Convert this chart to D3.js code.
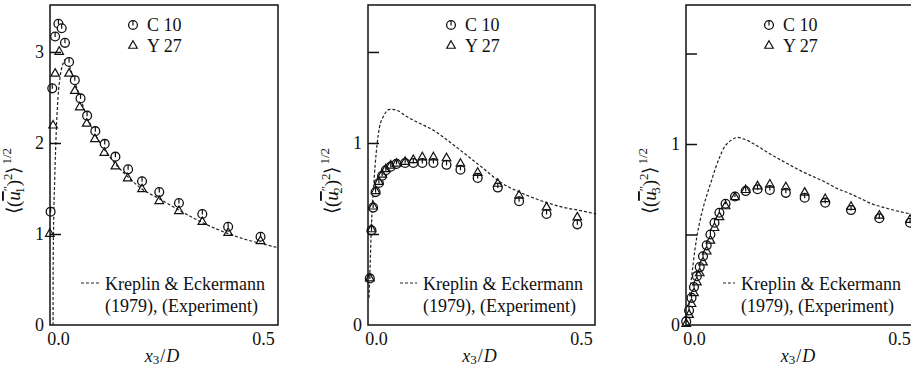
<!DOCTYPE html>
<html><head><meta charset="utf-8">
<script src="https://cdn.jsdelivr.net/npm/d3@7/dist/d3.min.js"></script>
<style>
body{margin:0;background:#fff;}
svg text{font-family:'Liberation Serif', serif; fill:#111;}
</style></head>
<body><svg id="c" width="911" height="373"></svg>
<script>
// ---------- DATA ----------
const xTickValues = [0, 0.5];
const seriesNames = ["C 10", "Y 27"];
const lineName = ["Kreplin & Eckermann", "(1979), (Experiment)"];

// panel 1: <(u1'')^2>^1/2
const u1_C10 = [[-0.018,1.245],[-0.014,2.60],[-0.007,3.17],[0.001,3.31],[0.009,3.26],[0.017,3.10],[0.027,2.89],[0.041,2.69],[0.055,2.49],[0.071,2.30],[0.091,2.13],[0.114,1.99],[0.140,1.85],[0.171,1.71],[0.205,1.58],[0.247,1.46],[0.295,1.34],[0.352,1.22],[0.415,1.08],[0.494,0.97]];
const u1_Y27 = [[-0.020,1.01],[-0.012,2.20],[-0.007,2.77],[0.003,3.01],[0.027,2.77],[0.041,2.58],[0.053,2.40],[0.070,2.22],[0.090,2.05],[0.113,1.90],[0.140,1.75],[0.170,1.62],[0.205,1.50],[0.247,1.37],[0.295,1.26],[0.352,1.14],[0.415,1.02],[0.494,0.93]];
const u1_KE = [[-0.012,0],[-0.012,0.5],[-0.011,1.0],[-0.008,1.6],[-0.004,2.15],[0.0,2.5],[0.006,2.75],[0.012,2.87],[0.018,2.92],[0.025,2.88],[0.035,2.75],[0.05,2.55],[0.07,2.3],[0.09,2.1],[0.11,1.95],[0.14,1.77],[0.17,1.63],[0.2,1.51],[0.25,1.38],[0.3,1.25],[0.35,1.13],[0.4,1.03],[0.45,0.95],[0.5,0.89],[0.537,0.85]];

// panel 2: <(u2'')^2>^1/2
const u2_C10 = [[-0.015,0.256],[-0.011,0.52],[-0.007,0.645],[-0.001,0.73],[0.007,0.78],[0.015,0.82],[0.024,0.85],[0.036,0.87],[0.050,0.885],[0.071,0.89],[0.091,0.89],[0.113,0.89],[0.140,0.89],[0.172,0.88],[0.206,0.853],[0.248,0.808],[0.297,0.755],[0.349,0.68],[0.416,0.61],[0.491,0.553]];
const u2_Y27 = [[-0.015,0.26],[-0.011,0.53],[-0.007,0.655],[-0.001,0.74],[0.007,0.79],[0.015,0.83],[0.024,0.86],[0.036,0.88],[0.050,0.89],[0.071,0.9],[0.091,0.91],[0.113,0.925],[0.140,0.925],[0.172,0.92],[0.206,0.89],[0.248,0.84],[0.297,0.78],[0.349,0.715],[0.416,0.65],[0.491,0.595]];
const u2_KE = [[-0.017,0.15],[-0.014,0.35],[-0.011,0.55],[-0.006,0.75],[-0.002,0.88],[0.003,1.0],[0.008,1.08],[0.018,1.145],[0.034,1.185],[0.050,1.18],[0.075,1.145],[0.1,1.115],[0.14,1.07],[0.18,1.005],[0.22,0.935],[0.27,0.845],[0.3,0.79],[0.35,0.73],[0.4,0.685],[0.45,0.65],[0.5,0.628],[0.537,0.61]];

// panel 3: <(u3'')^2>^1/2
const u3_C10 = [[-0.019,0.02],[-0.012,0.08],[-0.006,0.15],[0.000,0.21],[0.007,0.27],[0.014,0.32],[0.022,0.38],[0.031,0.44],[0.040,0.50],[0.050,0.565],[0.062,0.62],[0.077,0.67],[0.100,0.71],[0.126,0.74],[0.155,0.75],[0.185,0.746],[0.224,0.73],[0.270,0.703],[0.320,0.676],[0.383,0.635],[0.452,0.59],[0.527,0.565]];
const u3_Y27 = [[-0.019,0.01],[-0.012,0.06],[-0.006,0.12],[0.000,0.18],[0.007,0.24],[0.014,0.29],[0.022,0.35],[0.031,0.41],[0.040,0.47],[0.050,0.54],[0.062,0.60],[0.077,0.66],[0.100,0.71],[0.126,0.75],[0.155,0.77],[0.185,0.78],[0.224,0.765],[0.270,0.735],[0.320,0.70],[0.383,0.657],[0.452,0.608],[0.527,0.585]];
const u3_KE = [[-0.019,0.0],[-0.014,0.08],[-0.01,0.175],[-0.002,0.34],[0.007,0.488],[0.015,0.58],[0.023,0.654],[0.033,0.73],[0.043,0.80],[0.053,0.87],[0.063,0.93],[0.072,0.975],[0.08,1.0],[0.09,1.02],[0.1,1.033],[0.108,1.037],[0.118,1.03],[0.128,1.022],[0.15,0.995],[0.177,0.957],[0.205,0.92],[0.234,0.884],[0.262,0.85],[0.291,0.82],[0.32,0.79],[0.348,0.755],[0.376,0.73],[0.405,0.70],[0.433,0.67],[0.462,0.65],[0.495,0.63],[0.537,0.61]];

const p1YTicks = [1,2,3], p1YLabels = [0,1,2,3];
const p23YTicks = [0.5,1,1.5], p23YLabels = [0,1];

// ---------- DRAW ----------
const FF = "'Liberation Serif', serif";
const svg = d3.select("#c");
const T = 5, B = 325;
const panels = [
  {L:50, R:278, yMax:3.516, ticks:p1YTicks, labels:p1YLabels, sub:"1", c10:u1_C10, y27:u1_Y27, ke:u1_KE, dashLen:18},
  {L:368, R:595, yMax:1.758, ticks:p23YTicks, labels:p23YLabels, sub:"2", c10:u2_C10, y27:u2_Y27, ke:u2_KE, dashLen:17},
  {L:686, R:914, yMax:1.768, ticks:p23YTicks, labels:p23YLabels, sub:"3", c10:u3_C10, y27:u3_Y27, ke:u3_KE, dashLen:12}
];

const r = 4.4;
function drawCircle(g, cx, cy){
  g.append("circle").attr("cx",cx).attr("cy",cy).attr("r",r)
    .attr("fill","#fff").attr("stroke","#111").attr("stroke-width",1.3);
  g.append("line").attr("x1",cx).attr("x2",cx).attr("y1",cy-r).attr("y2",cy+0.5)
    .attr("stroke","#111").attr("stroke-width",1.2);
}
function drawTri(g, cx, cy){
  const s=4.3;
  g.append("path").attr("d",`M${cx},${cy-s}L${cx+s},${cy+s*0.75}L${cx-s},${cy+s*0.75}Z`)
    .attr("fill","none").attr("stroke","#111").attr("stroke-width",1.2);
}
function txt(g){ return g.append("text").style("font-family",FF); }

panels.forEach(p=>{
  const x = d3.scaleLinear().domain([-0.0195, -0.0195 + (p.R-p.L)/410]).range([p.L, p.R]);
  const y = d3.scaleLinear().domain([0, p.yMax]).range([B, T]);
  const g = svg.append("g");

  g.append("path").datum(p.ke)
    .attr("d", d3.line().x(d=>x(d[0])).y(d=>y(d[1])).curve(d3.curveMonotoneX))
    .attr("fill","none").attr("stroke","#222").attr("stroke-width",1.2).attr("stroke-dasharray","3,2");

  p.c10.forEach(d=>drawCircle(g, x(d[0]), y(d[1])));
  p.y27.forEach(d=>drawTri(g, x(d[0]), y(d[1])));

  g.append("rect").attr("x",p.L).attr("y",T).attr("width",p.R-p.L).attr("height",B-T)
    .attr("fill","none").attr("stroke","#111").attr("stroke-width",1.5);

  const ya = g.append("g").attr("transform",`translate(${p.L},0)`)
    .call(d3.axisLeft(y).tickValues(p.ticks).tickSize(-11).tickFormat(""));
  ya.select(".domain").remove();
  ya.selectAll("line").attr("stroke","#111").attr("stroke-width",1.5);
  const yl = g.append("g").attr("transform",`translate(${p.L},0)`)
    .call(d3.axisLeft(y).tickValues(p.labels).tickSize(0).tickPadding(6).tickFormat(d3.format("d")));
  yl.select(".domain").remove();
  yl.attr("font-family",null);
  yl.selectAll("text").attr("font-size",18).style("font-family",FF).attr("fill","#111");

  const xa = g.append("g").attr("transform",`translate(0,${B})`)
    .call(d3.axisBottom(x).tickValues(xTickValues).tickSize(0).tickPadding(7).tickFormat(d3.format(".1f")));
  xa.select(".domain").remove();
  xa.attr("font-family",null);
  xa.selectAll("text").attr("font-size",18).style("font-family",FF).attr("fill","#111");

  const xt = txt(g).attr("x",(p.L+p.R)/2 - 2).attr("y",362).attr("text-anchor","middle").attr("font-size",18);
  xt.append("tspan").attr("font-style","italic").text("x");
  xt.append("tspan").attr("font-size",13).attr("dy",2).text("3");
  xt.append("tspan").attr("dy",-2).attr("dx",1).text("/");
  xt.append("tspan").attr("font-style","italic").attr("dx",1).text("D");

  const yt = txt(g).attr("transform",`translate(${p.L-30},181) rotate(-90)`)
    .attr("text-anchor","middle").attr("font-size",19);
  yt.append("tspan").text("\u27E8(");
  yt.append("tspan").attr("font-style","italic").attr("text-decoration","overline").text("u");
  yt.append("tspan").attr("font-size",13).attr("dy",-8).text("\u2033");
  yt.append("tspan").attr("font-size",13).attr("dx",-8).attr("dy",12).text(p.sub);
  yt.append("tspan").attr("dy",-4).attr("dx",1).text(")");
  yt.append("tspan").attr("font-size",13).attr("dy",-8).text("2");
  yt.append("tspan").attr("dy",8).text("\u27E9");
  yt.append("tspan").attr("font-size",13).attr("dy",-9).attr("dx",2).text("1/2");

  drawCircle(g, p.L+83, 25);
  drawTri(g, p.L+83, 45);
  txt(g).attr("x",p.L+97).attr("y",31).attr("font-size",18).text(seriesNames[0]);
  txt(g).attr("x",p.L+97).attr("y",52).attr("font-size",18).text(seriesNames[1]);

  g.append("line").attr("x1",p.L+55-6-p.dashLen).attr("x2",p.L+55-6).attr("y1",283).attr("y2",283)
    .attr("stroke","#222").attr("stroke-width",1.2).attr("stroke-dasharray","3,2");
  txt(g).attr("x",p.L+55).attr("y",290).attr("font-size",18).text(lineName[0]);
  txt(g).attr("x",p.L+55).attr("y",312).attr("font-size",18).text(lineName[1]);
});
</script></body></html>
